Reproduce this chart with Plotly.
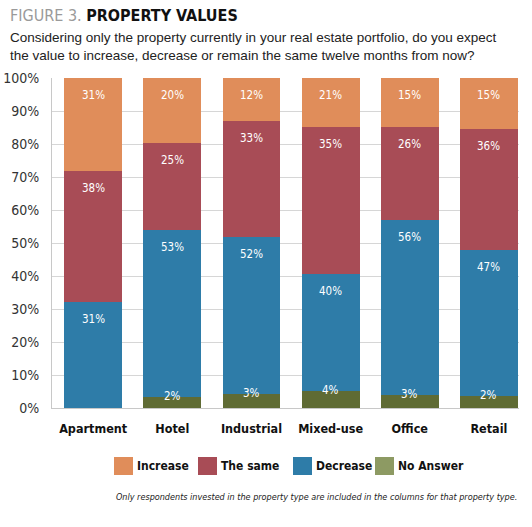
import plotly.graph_objects as go

categories = ["Apartment", "Hotel", "Industrial", "Mixed-use", "Office", "Retail"]
# segment heights as drawn in the picture (percent)
no_answer = [0.0, 3.3, 4.3, 5.2, 3.9, 3.6]
decrease = [32.1, 50.6, 47.6, 35.5, 53.0, 44.3]
the_same = [39.7, 26.5, 35.1, 44.5, 28.3, 36.6]
increase = [28.2, 19.6, 13.0, 14.8, 14.8, 15.5]
# percentages printed on the segments
no_answer_lbl = ["", "2%", "3%", "4%", "3%", "2%"]
decrease_lbl = ["31%", "53%", "52%", "40%", "56%", "47%"]
the_same_lbl = ["38%", "25%", "33%", "35%", "26%", "36%"]
increase_lbl = ["31%", "20%", "12%", "21%", "15%", "15%"]
y_ticks = [0, 10, 20, 30, 40, 50, 60, 70, 80, 90, 100]
y_tick_labels = [f"{v}%" for v in y_ticks]

series = [
    ("No Answer", no_answer, no_answer_lbl, "#5F6B34", "#8D9A63"),
    ("Decrease", decrease, decrease_lbl, "#2E7CA8", "#2E7CA8"),
    ("The same", the_same, the_same_lbl, "#A84C56", "#A84C56"),
    ("Increase", increase, increase_lbl, "#E08D5A", "#E08D5A"),
]

COND = "DejaVu Sans Condensed, Liberation Sans Narrow, sans-serif"

# plot area geometry (pixels) used to place layout elements in paper units
L, R, T, B, W, H = 52, 13, 78, 119, 532, 527
PW, PH = W - L - R, H - T - B


def px(x):
    return (x - L) / PW


def py(y):
    return (H - B - y) / PH


fig = go.Figure()
cum = [0.0] * len(categories)
for name, vals, lbls, color, _ in series:
    fig.add_trace(go.Bar(
        x=categories, y=vals, name=name,
        marker=dict(color=color, line=dict(width=0)),
        showlegend=False,
    ))
    cum = [round(c + v, 6) for c, v in zip(cum, vals)]
    for cat, top, lbl in zip(categories, cum, lbls):
        if lbl:
            fig.add_annotation(
                x=cat, y=min(top, 100), text=lbl, showarrow=False,
                yanchor="middle", yshift=1 if name == "No Answer" else -17,
                font=dict(color="white", size=11.5, family=COND),
            )

# legend (Increase, The same, Decrease, No Answer) drawn as swatches + labels
legend_x = {"Increase": 114, "The same": 198, "Decrease": 293, "No Answer": 375}
for name, _, _, _, swatch in reversed(series):
    x0 = legend_x[name]
    fig.add_shape(
        type="rect", xref="paper", yref="paper",
        x0=px(x0), x1=px(x0 + 19), y0=py(475), y1=py(457),
        fillcolor=swatch, line=dict(width=0),
    )
    fig.add_annotation(
        xref="paper", yref="paper", x=px(x0 + 21), y=py(466),
        xanchor="left", yanchor="middle", text=f"<b>{name}</b>", showarrow=False,
        font=dict(size=12, family=COND, color="#111"),
    )

fig.update_layout(
    barmode="stack",
    bargap=0.27,
    width=W, height=H,
    margin=dict(l=L, r=R, t=T, b=B),
    plot_bgcolor="white", paper_bgcolor="white",
    showlegend=False,
    xaxis=dict(
        range=[-0.52, 5.38], automargin=False,
        showline=True, linecolor="#c8c8c8", linewidth=1,
        ticks="", tickfont=dict(size=12.5, family=COND, color="#111", weight="bold"),
        ticklabelstandoff=9,
        showgrid=False,
    ),
    yaxis=dict(
        range=[0, 100], automargin=False,
        tickvals=y_ticks, ticktext=y_tick_labels,
        showline=True, linecolor="#c8c8c8", linewidth=1,
        showgrid=True, gridcolor="#d6d6d6", gridwidth=1,
        tickfont=dict(size=14, family=COND, color="#333"),
        ticks="", ticklabelstandoff=9,
        zeroline=False,
    ),
    font=dict(family=COND),
)

fig.add_annotation(
    xref="paper", yref="paper", x=px(8), y=py(15), xanchor="left", yanchor="middle",
    text="<span style='color:#9a9a9a'>FIGURE 3.</span> <b>PROPERTY VALUES</b>",
    showarrow=False, font=dict(size=16, family=COND, color="#111"),
)
fig.add_annotation(
    xref="paper", yref="paper", x=px(8), y=py(47), xanchor="left", yanchor="middle",
    text="Considering only the property currently in your real estate portfolio, do you expect<br>the value to increase, decrease or remain the same twelve months from now?",
    align="left", showarrow=False, font=dict(size=13.5, family="Liberation Sans, Arial, sans-serif", color="#222"),
)
fig.add_annotation(
    xref="paper", yref="paper", x=1, y=py(497), xanchor="right", yanchor="middle",
    text="<i>Only respondents invested in the property type are included in the columns for that property type.</i>",
    showarrow=False, font=dict(size=9, family=COND, color="#222"),
)

fig.write_html("out.html")
